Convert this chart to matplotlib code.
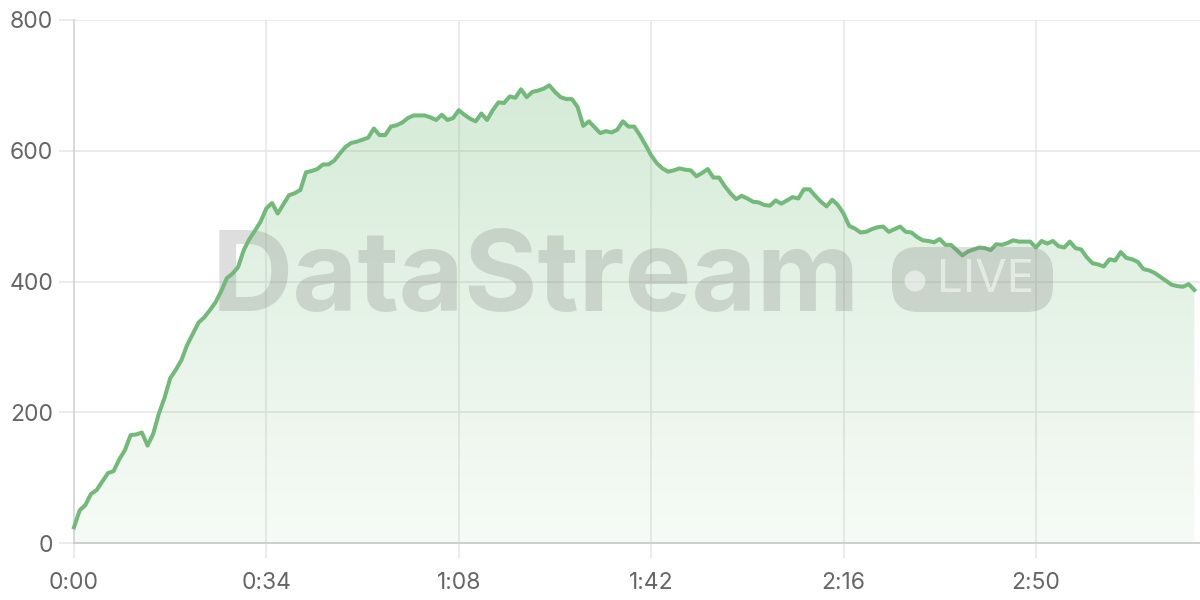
import numpy as np
import matplotlib
matplotlib.use('Agg')
from matplotlib import pyplot as plt
from matplotlib.patches import FancyBboxPatch, Circle, Polygon

# one sample per second, 0:00 .. 3:18
viewers = [
    24, 50, 58, 75, 81, 94, 107, 110, 128, 142,
    165, 166, 169, 149, 167, 198, 222, 252, 265, 280,
    303, 320, 337, 345, 356, 368, 385, 405, 412, 422,
    448, 465, 478, 492, 512, 520, 504, 518, 532, 535,
    540, 567, 569, 572, 579, 579, 585, 596, 606, 612,
    614, 617, 620, 634, 624, 624, 637, 639, 643, 650,
    654, 654, 654, 651, 647, 655, 647, 650, 662, 655,
    649, 645, 657, 647, 662, 674, 673, 683, 681, 694,
    682, 690, 692, 695, 700, 690, 682, 679, 679, 667,
    638, 645, 636, 627, 630, 628, 632, 645, 637, 637,
    624, 609, 593, 581, 573, 568, 570, 573, 571, 570,
    561, 566, 572, 559, 559, 546, 535, 526, 531, 527,
    522, 521, 517, 516, 524, 519, 524, 529, 527, 541,
    541, 531, 522, 515, 525, 517, 504, 485, 481, 475,
    476, 480, 483, 484, 476, 480, 484, 476, 475, 468,
    463, 462, 460, 465, 456, 456, 448, 440, 446, 449,
    452, 451, 448, 457, 456, 459, 463, 461, 461, 461,
    452, 462, 458, 462, 454, 452, 461, 451, 449, 437,
    428, 426, 423, 434, 432, 445, 436, 434, 430, 419,
    417, 413, 407, 401, 395, 393, 392, 396, 387,
]
seconds = np.arange(len(viewers))
tick_seconds = [0, 34, 68, 102, 136, 170]
tick_labels = ['0:00', '0:34', '1:08', '1:42', '2:16', '2:50']
y_ticks = [0, 200, 400, 600, 800]

plt.rcParams['font.family'] = ['Inter', 'DejaVu Sans']

fig = plt.figure(figsize=(12, 6), dpi=100)
ax = fig.add_axes([74 / 1200, 57 / 600, 1126 / 1200, 523 / 600])

# gradient fill under the line
verts = [(seconds[0], 0)] + list(zip(seconds, viewers)) + [(seconds[-1], 0)]
poly = Polygon(verts, closed=True, facecolor='none', edgecolor='none')
ax.add_patch(poly)
grad = np.zeros((256, 1, 4))
grad[:, 0, 0] = 0.44
grad[:, 0, 1] = 0.73
grad[:, 0, 2] = 0.46
grad[:, 0, 3] = np.linspace(0.30, 0.06, 256)
img = ax.imshow(grad, extent=[0, 199, 0, 720], origin='upper',
                aspect='auto', zorder=1, interpolation='bilinear')
img.set_clip_path(poly)
ax.set_xlim(0, 199)
ax.set_ylim(0, 800)

# watermark
ax.text(0.122, 0.500, 'DataStream', transform=ax.transAxes,
        fontsize=81, fontweight='bold', color='#808080', alpha=0.26,
        ha='left', va='center', zorder=2)
badge = FancyBboxPatch((892, 600 - 312), 161, 65,
                       boxstyle='round,pad=0,rounding_size=26',
                       transform=None, facecolor='#808080', alpha=0.26,
                       edgecolor='none', zorder=2)
fig.patches.append(badge)
dot = Circle((915, 600 - 281), 10.5, transform=None,
             facecolor='white', alpha=0.5, edgecolor='none', zorder=3)
fig.patches.append(dot)
fig.text(937 / 1200, 1 - 280 / 600, 'LIVE', fontsize=33, color='white',
         alpha=0.5, ha='left', va='center', zorder=3)

ax.plot(seconds, viewers, color='#72b97a', linewidth=2.9,
        solid_joinstyle='round', zorder=4, clip_on=False)

ax.set_xticks(tick_seconds)
ax.set_xticklabels(tick_labels)
ax.set_yticks(y_ticks)
ax.grid(True, color='#e6e6e6', linewidth=1.1, zorder=0)
ax.set_axisbelow(True)
ax.tick_params(axis='both', length=11, width=1.1, color='#e6e6e6',
               labelsize=16.5, labelcolor='#666666')
ax.tick_params(axis='x', pad=10)
ax.tick_params(axis='y', pad=4)
for side in ['top', 'right']:
    ax.spines[side].set_visible(False)
ax.spines['left'].set_color('#d6d6d6')
ax.spines['left'].set_linewidth(1.3)
ax.spines['bottom'].set_color('#cccccc')
ax.spines['bottom'].set_linewidth(1.3)

plt.savefig('out.png', dpi=100)
plt.close()
